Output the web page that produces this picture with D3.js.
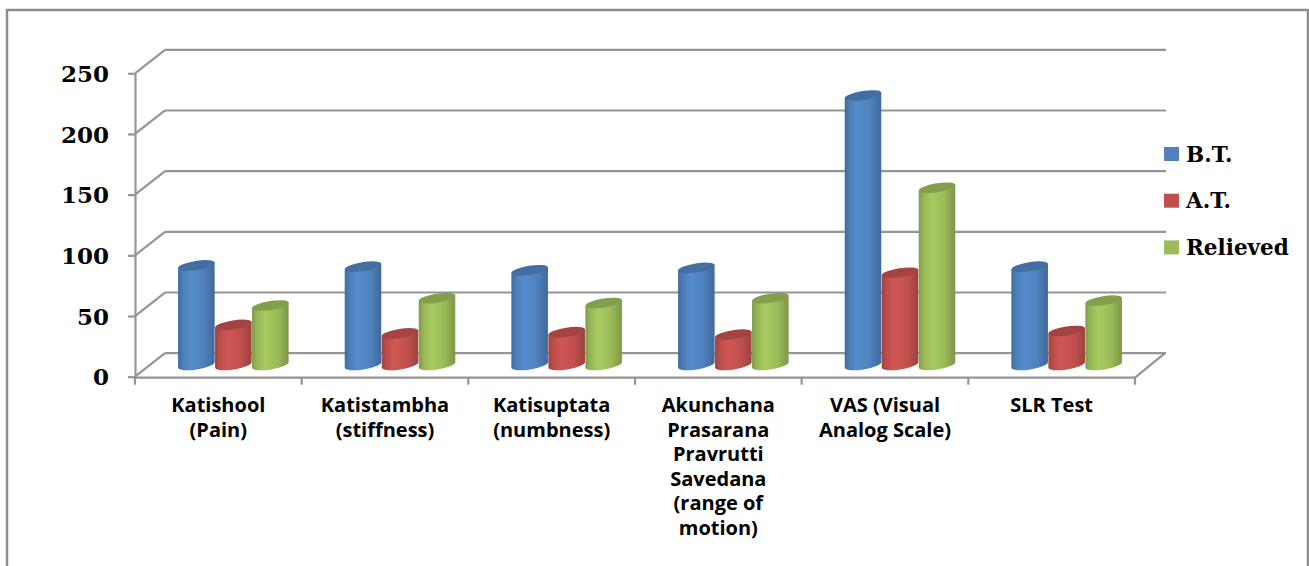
<!DOCTYPE html>
<html>
<head>
<meta charset="utf-8">
<script src="https://cdn.jsdelivr.net/npm/d3@7"></script>
<style>
  html, body { margin: 0; padding: 0; background: #fff; overflow: hidden; }
  svg { display: block; }
</style>
</head>
<body>
<svg id="chart" width="1309" height="566"></svg>
<script>
// Assessment parameters (x categories), each label split into its printed lines
const categories = ["Katishool", "Katistambha", "Katisuptata", "Akunchana", "VAS", "SLR"];
const categoryLines = [
  ["Katishool", "(Pain)"],
  ["Katistambha", "(stiffness)"],
  ["Katisuptata", "(numbness)"],
  ["Akunchana", "Prasarana", "Pravrutti", "Savedana", "(range of", "motion)"],
  ["VAS (Visual", "Analog Scale)"],
  ["SLR Test"]
];
const seriesNames = ["B.T.", "A.T.", "Relieved"];
const beforeTreatment = [82, 81, 78, 80, 222, 81];
const afterTreatment  = [33, 26, 27, 25, 76, 28];
const relieved        = [49, 55, 51, 55, 146, 53];
const yTicks = [0, 50, 100, 150, 200, 250];

const seriesValues = [beforeTreatment, afterTreatment, relieved];
const seriesColors = ["#4F81BD", "#C0504D", "#9BBB59"];

const svg = d3.select("#chart");

// Outer chart frame
svg.append("rect")
  .attr("x", 7).attr("y", 10).attr("width", 1301).attr("height", 620)
  .attr("fill", "none").attr("stroke", "#8c8c8c").attr("stroke-width", 2.5);

// Plot geometry: front face of the 3-D box plus a depth offset for the back wall
const left = 135, right = 1135;
const depthX = 30, depthY = -23.5;
const y = d3.scaleLinear().domain([0, 250]).range([376.7, 73.3]);
const x = d3.scaleBand().domain(categories).range([left, right]);
const inner = d3.scaleBand().domain(seriesNames).range([-55.5, 55.5]);

const gridColor = "#959595";
const grid = svg.append("g").attr("stroke", gridColor).attr("stroke-width", 2.2).attr("fill", "none");

// Back-wall gridlines and the slanted side-wall connectors
yTicks.forEach(t => {
  grid.append("line")
    .attr("x1", left + depthX).attr("x2", right + depthX + 1)
    .attr("y1", y(t) + depthY).attr("y2", y(t) + depthY);
  grid.append("line")
    .attr("x1", left).attr("y1", y(t))
    .attr("x2", left + depthX).attr("y2", y(t) + depthY);
});
// Floor: front edge and right-hand depth edge
grid.append("line").attr("x1", left).attr("x2", right).attr("y1", y(0) + 1).attr("y2", y(0) + 1);
grid.append("line").attr("x1", right).attr("y1", y(0) + 1).attr("x2", right + depthX).attr("y2", y(0) + depthY);

// Category boundary ticks under the floor edge
const bounds = categories.map(c => x(c)).concat([x(categories[categories.length - 1]) + x.bandwidth()]);
grid.selectAll("line.ctick").data(bounds).join("line")
  .attr("class", "ctick")
  .attr("x1", d => d).attr("x2", d => d)
  .attr("y1", y(0) + 1).attr("y2", y(0) + 8);

// Value axis on the front-left edge
const yAxis = svg.append("g")
  .attr("transform", `translate(${left},0)`)
  .call(d3.axisLeft(y).tickValues(yTicks).tickSize(7).tickSizeOuter(0).tickPadding(19));
yAxis.select(".domain").attr("stroke", gridColor).attr("stroke-width", 2.2);
yAxis.selectAll(".tick line").attr("stroke", gridColor).attr("stroke-width", 2.2);
yAxis.selectAll(".tick text")
  .attr("font-family", "'DejaVu Serif', serif")
  .attr("font-weight", "bold")
  .attr("font-size", 23)
  .attr("fill", "#000")
  .attr("dy", "0.36em");

// Cylinder shading gradients
const defs = svg.append("defs");
seriesColors.forEach((col, i) => {
  const c = d3.rgb(col);
  const g = defs.append("linearGradient").attr("id", "cyl" + i)
    .attr("x1", "0%").attr("x2", "100%").attr("y1", "0%").attr("y2", "0%");
  g.append("stop").attr("offset", "0%").attr("stop-color", c.darker(0.55));
  g.append("stop").attr("offset", "12%").attr("stop-color", c.darker(0.1));
  g.append("stop").attr("offset", "35%").attr("stop-color", c.brighter(0.22));
  g.append("stop").attr("offset", "70%").attr("stop-color", c);
  g.append("stop").attr("offset", "100%").attr("stop-color", c.darker(0.6));
});

// Cylinders, standing at mid-depth of the floor
const rx = 18.5, ry = 4.5, tilt = -9;
const rad = tilt * Math.PI / 180;
const ex = rx * Math.cos(rad), ey = rx * Math.sin(rad);
const midDx = depthX / 2, midDy = depthY / 2;

const bars = [];
seriesNames.forEach((s, si) => {
  categories.forEach((c, ci) => {
    bars.push({ s, si, c, v: seriesValues[si][ci] });
  });
});

const barG = svg.append("g");
const cyl = barG.selectAll("g.cyl").data(bars).join("g").attr("class", "cyl");

cyl.each(function(d) {
  const g = d3.select(this);
  const cx = x(d.c) + x.bandwidth() / 2 + midDx + inner(d.s) + inner.bandwidth() / 2;
  const yb = y(0) + midDy;
  const yt = y(d.v) + midDy;
  const path = `M${cx - ex},${yb - ey} L${cx - ex},${yt - ey} L${cx + ex},${yt + ey} L${cx + ex},${yb + ey} ` +
               `A${rx},${ry} ${tilt} 0 1 ${cx - ex},${yb - ey} Z`;
  g.append("path").attr("d", path).attr("fill", `url(#cyl${d.si})`);
  g.append("ellipse")
    .attr("cx", cx).attr("cy", yt).attr("rx", rx).attr("ry", ry)
    .attr("transform", `rotate(${tilt},${cx},${yt})`)
    .attr("fill", d3.rgb(seriesColors[d.si]).darker(0.45));
});

// Category labels below the floor
const labelG = svg.append("g")
  .attr("font-family", "'Open Sans', sans-serif")
  .attr("font-weight", "bold")
  .attr("font-size", 20)
  .attr("text-anchor", "middle")
  .attr("fill", "#000");
categories.forEach((c, i) => {
  const t = labelG.append("text")
    .attr("x", x(c) + x.bandwidth() / 2)
    .attr("y", 412);
  categoryLines[i].forEach((line, li) => {
    t.append("tspan")
      .attr("x", x(c) + x.bandwidth() / 2)
      .attr("dy", li === 0 ? 0 : 24.5)
      .text(line);
  });
});

// Legend
const legend = svg.append("g").attr("transform", "translate(1164,147)");
seriesNames.forEach((s, i) => {
  const row = legend.append("g").attr("transform", `translate(0,${i * 46.7})`);
  row.append("rect").attr("width", 15).attr("height", 14).attr("fill", seriesColors[i]);
  row.append("text")
    .attr("x", 22).attr("y", 7).attr("dy", "0.36em")
    .attr("font-family", "'DejaVu Serif', serif")
    .attr("font-weight", "bold")
    .attr("font-size", 21.5)
    .attr("fill", "#000")
    .text(s);
});
</script>
</body>
</html>
